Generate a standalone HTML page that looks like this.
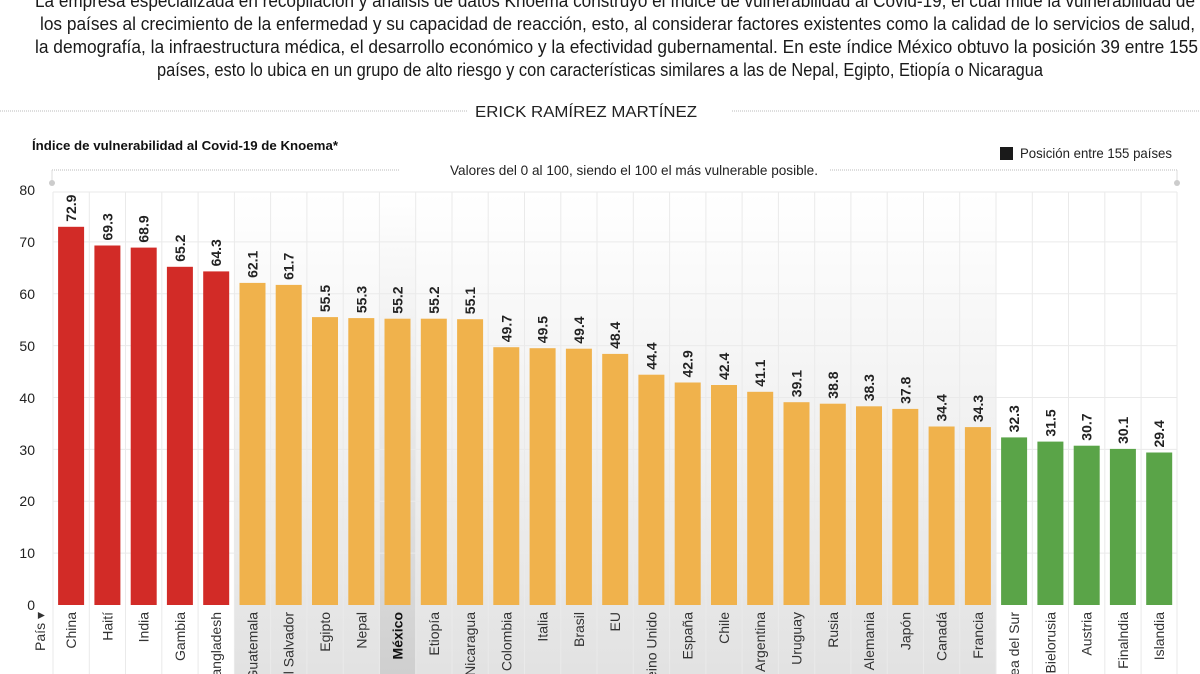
<!DOCTYPE html>
<html><head><meta charset="utf-8"><style>
html,body{margin:0;padding:0;background:#fff;width:1200px;height:674px;overflow:hidden}
svg{display:block;font-family:"Liberation Sans",sans-serif}
.p{font-size:18px;fill:#1a1a1a}
.v{font-size:14px;font-weight:bold;fill:#222}
.c{font-size:14px;fill:#333}
.y{font-size:14px;fill:#222}
</style></head><body>
<svg width="1200" height="674" viewBox="0 0 1200 674">
<defs><linearGradient id="g" x1="0" y1="0" x2="0" y2="1">
<stop offset="0" stop-color="#ffffff"/><stop offset="1" stop-color="#e2e2e2"/></linearGradient>
<linearGradient id="gm" x1="0" y1="0" x2="0" y2="1">
<stop offset="0" stop-color="#ffffff"/><stop offset="1" stop-color="#cfcfcf"/></linearGradient></defs>
<text class="p" x="35" y="7" textLength="1160" lengthAdjust="spacingAndGlyphs">La empresa especializada en recopilación y análisis de datos Knoema construyó el índice de vulnerabilidad al Covid-19, el cual mide la vulnerabilidad de</text>
<text class="p" x="40" y="30" textLength="1155" lengthAdjust="spacingAndGlyphs">los países al crecimiento de la enfermedad y su capacidad de reacción, esto, al considerar factores existentes como la calidad de lo servicios de salud,</text>
<text class="p" x="35" y="53" textLength="1163" lengthAdjust="spacingAndGlyphs">la demografía, la infraestructura médica, el desarrollo económico y la efectividad gubernamental. En este índice México obtuvo la posición 39 entre 155</text>
<text class="p" x="157" y="76" textLength="886" lengthAdjust="spacingAndGlyphs">países, esto lo ubica en un grupo de alto riesgo y con características similares a las de Nepal, Egipto, Etiopía o Nicaragua</text>
<line x1="0" y1="111" x2="468" y2="111" stroke="#bbb" stroke-dasharray="1,1"/>
<line x1="732" y1="111" x2="1200" y2="111" stroke="#bbb" stroke-dasharray="1,1"/>
<text x="475" y="117" font-size="16" fill="#222" textLength="222" lengthAdjust="spacingAndGlyphs">ERICK RAMÍREZ MARTÍNEZ</text>
<text x="32" y="150" font-size="13" font-weight="bold" fill="#111" textLength="306" lengthAdjust="spacingAndGlyphs">Índice de vulnerabilidad al Covid-19 de Knoema*</text>
<rect x="1000" y="147" width="13" height="13" fill="#1a1a1a"/>
<text x="1020" y="158" font-size="14" fill="#222" textLength="152" lengthAdjust="spacingAndGlyphs">Posición entre 155 países</text>
<text x="450" y="175" font-size="14" fill="#222" textLength="368" lengthAdjust="spacingAndGlyphs">Valores del 0 al 100, siendo el 100 el más vulnerable posible.</text>
<line x1="52" y1="170" x2="399" y2="170" stroke="#bbb" stroke-dasharray="1,1"/>
<line x1="830" y1="170" x2="1177" y2="170" stroke="#bbb" stroke-dasharray="1,1"/>
<line x1="52" y1="170" x2="52" y2="183" stroke="#ddd"/><line x1="1177" y1="170" x2="1177" y2="183" stroke="#ddd"/>
<circle cx="52" cy="183" r="3" fill="#ccc"/><circle cx="1177" cy="183" r="3" fill="#ccc"/>
<rect x="234" y="192" width="762" height="482" fill="url(#g)"/>
<rect x="379.6" y="192" width="36.3" height="482" fill="url(#gm)"/>
<g stroke="#eaeaea" stroke-width="1">
<line x1="53" y1="192" x2="1177" y2="192"/><line x1="53" y1="241.9" x2="1177" y2="241.9"/><line x1="53" y1="293.8" x2="1177" y2="293.8"/><line x1="53" y1="345.6" x2="1177" y2="345.6"/><line x1="53" y1="397.5" x2="1177" y2="397.5"/><line x1="53" y1="449.4" x2="1177" y2="449.4"/><line x1="53" y1="501.3" x2="1177" y2="501.3"/><line x1="53" y1="553.1" x2="1177" y2="553.1"/>
<line x1="53" y1="192" x2="53" y2="674"/><line x1="89.3" y1="192" x2="89.3" y2="674"/><line x1="125.5" y1="192" x2="125.5" y2="674"/><line x1="161.8" y1="192" x2="161.8" y2="674"/><line x1="198.1" y1="192" x2="198.1" y2="674"/><line x1="234.4" y1="192" x2="234.4" y2="674"/><line x1="270.6" y1="192" x2="270.6" y2="674"/><line x1="306.9" y1="192" x2="306.9" y2="674"/><line x1="343.2" y1="192" x2="343.2" y2="674"/><line x1="379.4" y1="192" x2="379.4" y2="674"/><line x1="415.7" y1="192" x2="415.7" y2="674"/><line x1="452" y1="192" x2="452" y2="674"/><line x1="488.2" y1="192" x2="488.2" y2="674"/><line x1="524.5" y1="192" x2="524.5" y2="674"/><line x1="560.8" y1="192" x2="560.8" y2="674"/><line x1="597" y1="192" x2="597" y2="674"/><line x1="633.3" y1="192" x2="633.3" y2="674"/><line x1="669.6" y1="192" x2="669.6" y2="674"/><line x1="705.9" y1="192" x2="705.9" y2="674"/><line x1="742.1" y1="192" x2="742.1" y2="674"/><line x1="778.4" y1="192" x2="778.4" y2="674"/><line x1="814.7" y1="192" x2="814.7" y2="674"/><line x1="850.9" y1="192" x2="850.9" y2="674"/><line x1="887.2" y1="192" x2="887.2" y2="674"/><line x1="923.5" y1="192" x2="923.5" y2="674"/><line x1="959.7" y1="192" x2="959.7" y2="674"/><line x1="996" y1="192" x2="996" y2="674"/><line x1="1032.3" y1="192" x2="1032.3" y2="674"/><line x1="1068.5" y1="192" x2="1068.5" y2="674"/><line x1="1104.8" y1="192" x2="1104.8" y2="674"/><line x1="1141.1" y1="192" x2="1141.1" y2="674"/><line x1="1177" y1="192" x2="1177" y2="674"/>
</g>
<g class="y" text-anchor="end">
<text x="35" y="195">80</text><text x="35" y="247">70</text><text x="35" y="299">60</text><text x="35" y="351">50</text><text x="35" y="403">40</text><text x="35" y="455">30</text><text x="35" y="506">20</text><text x="35" y="558">10</text><text x="35" y="610">0</text>
</g>
<g fill="#d22b27">
<rect x="58.1" y="226.8" width="26" height="378.2"/><rect x="94.4" y="245.5" width="26" height="359.5"/><rect x="130.7" y="247.6" width="26" height="357.4"/><rect x="166.9" y="266.8" width="26" height="338.2"/><rect x="203.2" y="271.4" width="26" height="333.6"/>
</g>
<g fill="#f0b24c">
<rect x="239.5" y="282.9" width="26" height="322.1"/><rect x="275.7" y="284.9" width="26" height="320.1"/><rect x="312" y="317.1" width="26" height="287.9"/><rect x="348.3" y="318.1" width="26" height="286.9"/><rect x="384.5" y="318.7" width="26" height="286.3"/><rect x="420.8" y="318.7" width="26" height="286.3"/><rect x="457.1" y="319.2" width="26" height="285.8"/><rect x="493.3" y="347.2" width="26" height="257.8"/><rect x="529.6" y="348.2" width="26" height="256.8"/><rect x="565.9" y="348.7" width="26" height="256.3"/><rect x="602.2" y="353.9" width="26" height="251.1"/><rect x="638.4" y="374.7" width="26" height="230.3"/><rect x="674.7" y="382.5" width="26" height="222.5"/><rect x="711" y="385" width="26" height="220"/><rect x="747.2" y="391.8" width="26" height="213.2"/><rect x="783.5" y="402.2" width="26" height="202.8"/><rect x="819.8" y="403.7" width="26" height="201.3"/><rect x="856" y="406.3" width="26" height="198.7"/><rect x="892.3" y="408.9" width="26" height="196.1"/><rect x="928.6" y="426.5" width="26" height="178.5"/><rect x="964.9" y="427.1" width="26" height="177.9"/>
</g>
<g fill="#5aa448">
<rect x="1001.1" y="437.4" width="26" height="167.6"/><rect x="1037.4" y="441.6" width="26" height="163.4"/><rect x="1073.7" y="445.7" width="26" height="159.3"/><rect x="1109.9" y="448.9" width="26" height="156.1"/><rect x="1146.2" y="452.5" width="26" height="152.5"/>
</g>
<g class="v">
<text transform="translate(76.1,221.8) rotate(-90)">72.9</text>
<text transform="translate(112.4,240.5) rotate(-90)">69.3</text>
<text transform="translate(148.7,242.6) rotate(-90)">68.9</text>
<text transform="translate(184.9,261.8) rotate(-90)">65.2</text>
<text transform="translate(221.2,266.4) rotate(-90)">64.3</text>
<text transform="translate(257.5,277.9) rotate(-90)">62.1</text>
<text transform="translate(293.7,279.9) rotate(-90)">61.7</text>
<text transform="translate(330,312.1) rotate(-90)">55.5</text>
<text transform="translate(366.3,313.1) rotate(-90)">55.3</text>
<text transform="translate(402.5,313.7) rotate(-90)">55.2</text>
<text transform="translate(438.8,313.7) rotate(-90)">55.2</text>
<text transform="translate(475.1,314.2) rotate(-90)">55.1</text>
<text transform="translate(511.3,342.2) rotate(-90)">49.7</text>
<text transform="translate(547.6,343.2) rotate(-90)">49.5</text>
<text transform="translate(583.9,343.7) rotate(-90)">49.4</text>
<text transform="translate(620.2,348.9) rotate(-90)">48.4</text>
<text transform="translate(656.4,369.7) rotate(-90)">44.4</text>
<text transform="translate(692.7,377.5) rotate(-90)">42.9</text>
<text transform="translate(729,380) rotate(-90)">42.4</text>
<text transform="translate(765.2,386.8) rotate(-90)">41.1</text>
<text transform="translate(801.5,397.2) rotate(-90)">39.1</text>
<text transform="translate(837.8,398.7) rotate(-90)">38.8</text>
<text transform="translate(874,401.3) rotate(-90)">38.3</text>
<text transform="translate(910.3,403.9) rotate(-90)">37.8</text>
<text transform="translate(946.6,421.5) rotate(-90)">34.4</text>
<text transform="translate(982.9,422.1) rotate(-90)">34.3</text>
<text transform="translate(1019.1,432.4) rotate(-90)">32.3</text>
<text transform="translate(1055.4,436.6) rotate(-90)">31.5</text>
<text transform="translate(1091.7,440.7) rotate(-90)">30.7</text>
<text transform="translate(1127.9,443.9) rotate(-90)">30.1</text>
<text transform="translate(1164.2,447.5) rotate(-90)">29.4</text>
</g>
<g class="c" text-anchor="end">
<text transform="translate(45,612) rotate(-90)">País ▾</text>
<text transform="translate(76.1,612) rotate(-90)">China</text>
<text transform="translate(112.4,612) rotate(-90)">Haití</text>
<text transform="translate(148.7,612) rotate(-90)">India</text>
<text transform="translate(184.9,612) rotate(-90)">Gambia</text>
<text transform="translate(221.2,612) rotate(-90)">Bangladesh</text>
<text transform="translate(257.5,612) rotate(-90)">Guatemala</text>
<text transform="translate(293.7,612) rotate(-90)">El Salvador</text>
<text transform="translate(330,612) rotate(-90)">Egipto</text>
<text transform="translate(366.3,612) rotate(-90)">Nepal</text>
<text transform="translate(402.5,612) rotate(-90)" font-weight="bold" fill="#111">México</text>
<text transform="translate(438.8,612) rotate(-90)">Etiopía</text>
<text transform="translate(475.1,612) rotate(-90)">Nicaragua</text>
<text transform="translate(511.3,612) rotate(-90)">Colombia</text>
<text transform="translate(547.6,612) rotate(-90)">Italia</text>
<text transform="translate(583.9,612) rotate(-90)">Brasil</text>
<text transform="translate(620.2,612) rotate(-90)">EU</text>
<text transform="translate(656.4,612) rotate(-90)">Reino Unido</text>
<text transform="translate(692.7,612) rotate(-90)">España</text>
<text transform="translate(729,612) rotate(-90)">Chile</text>
<text transform="translate(765.2,612) rotate(-90)">Argentina</text>
<text transform="translate(801.5,612) rotate(-90)">Uruguay</text>
<text transform="translate(837.8,612) rotate(-90)">Rusia</text>
<text transform="translate(874,612) rotate(-90)">Alemania</text>
<text transform="translate(910.3,612) rotate(-90)">Japón</text>
<text transform="translate(946.6,612) rotate(-90)">Canadá</text>
<text transform="translate(982.9,612) rotate(-90)">Francia</text>
<text transform="translate(1019.1,612) rotate(-90)">Corea del Sur</text>
<text transform="translate(1055.4,612) rotate(-90)">Bielorusia</text>
<text transform="translate(1091.7,612) rotate(-90)">Austria</text>
<text transform="translate(1127.9,612) rotate(-90)">Finalndia</text>
<text transform="translate(1164.2,612) rotate(-90)">Islandia</text>
</g>
</svg>
</body></html>
